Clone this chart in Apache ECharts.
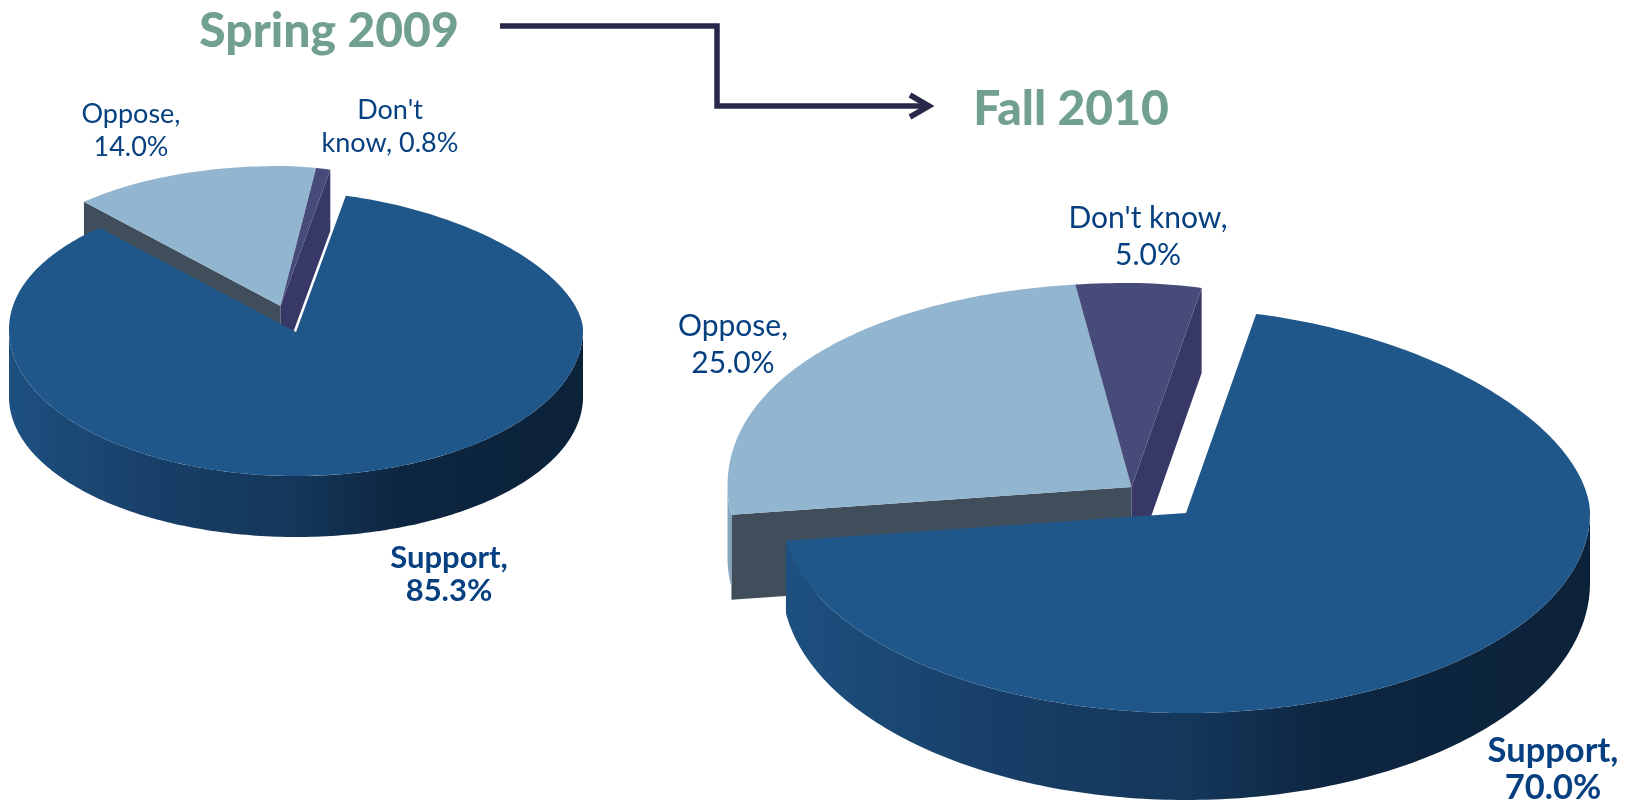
<!DOCTYPE html>
<html>
<head>
<meta charset="utf-8">
<style>html,body{margin:0;padding:0;background:#fff}#c{width:1635px;height:803px}</style>
<script src="https://cdn.jsdelivr.net/npm/echarts@6/dist/echarts.min.js"></script>
</head>
<body>
<div id="c"></div>
<script>
// ---- data ----
const categories = ['Support', 'Oppose', "Don't know"];
const spring2009 = [85.3, 14.0, 0.8];
const fall2010 = [70.0, 25.0, 5.0];
const spring2009Labels = ['Support,\n85.3%', 'Oppose,\n14.0%', "Don't\nknow, 0.8%"];
const fall2010Labels = ['Support,\n70.0%', 'Oppose,\n25.0%', "Don't know,\n5.0%"];
const titles = ['Spring 2009', 'Fall 2010'];

// ---- layout and style ----
const FONT = 'Lato';
const sliceStyle = [
  { top: '#20578a', outer: null, bold: true },
  { top: '#92b5d0', outer: '#86a6c0', cut: '#3f4e5a', cutEdge: 'start', bold: false },
  { top: '#474b7a', outer: '#373865', cut: '#373865', cutEdge: 'end', bold: false }
];
const wallGradient = [
  [0, '#1d5080'], [0.25, '#183f68'], [0.5, '#14375a'], [0.68, '#0d2540'], [1, '#0b2239']
];
const pieLeft = {
  cx: 296, cy: 330, apexY: 332, rx: 287, ryTop: 138, ryBottom: 146, pRight: 1.75, pLeft: 2.05,
  wallCy: 397, wallRy: 140, depth: 61, startAngle: 80,
  shift: [[0, 0], [-15.5, -26], [-15.5, -26]],
  labelPos: [[449, 574], [131, 131], [390, 127]], fontSize: 27, boldSize: 31, lineHeight: 33
};
const pieRight = {
  cx: 1186, cy: 513, apexY: 513, rx: 404, ryTop: 204, ryBottom: 200, pRight: 1.8, pLeft: 2.1,
  wallCy: 583, wallRy: 217, depth: 85, startAngle: 80,
  shift: [[0, 0], [-54.5, -26], [-54.5, -26]],
  labelPos: [[1553, 769], [733, 345], [1148, 237]], fontSize: 30, boldSize: 34.5, lineHeight: 37
};

const RAD = Math.PI / 180;
function rim(g, deg) {
  const c = Math.cos(deg * RAD), s = Math.sin(deg * RAD);
  const x = g.cx + g.rx * c;
  if (s >= 0) {
    const p = c >= 0 ? g.pRight : g.pLeft;
    return [x, g.cy - g.ryTop * Math.pow(1 - Math.pow(Math.abs(c), p), 1 / p)];
  }
  return [x, g.cy + g.ryBottom * Math.abs(s)];
}
function wallRim(g, deg) {
  return [g.cx + g.rx * Math.cos(deg * RAD), g.wallCy + g.wallRy * Math.abs(Math.sin(deg * RAD))];
}
function moved(p, d, extraY) { return [p[0] + d[0], p[1] + d[1] + (extraY || 0)]; }
function arcPoints(fn, g, from, to, d) {
  const pts = [], n = Math.max(2, Math.ceil(Math.abs(from - to)));
  for (let i = 0; i <= n; i++) pts.push(moved(fn(g, from + (to - from) * i / n), d));
  return pts;
}

function pieRenderer(values, labels, g) {
  const total = values.reduce((a, b) => a + b, 0);
  const toAngle = v => echarts.number.linearMap(v, [0, total], [g.startAngle, g.startAngle - 360]);
  return function (params, api) {
    const i = params.dataIndex;
    const before = values.slice(0, i).reduce((a, b) => a + b, 0);
    const a0 = toAngle(before), a1 = toAngle(before + api.value(0));
    const st = sliceStyle[i], d = g.shift[i];
    const apex = [g.cx + d[0], g.apexY + d[1]];
    const order = i === 0 ? 3 : i; // the largest slice sits in front
    const children = [];

    if (st.cut) {
      const edge = moved(rim(g, st.cutEdge === 'start' ? a0 : a1), d);
      children.push({
        type: 'polygon', z2: order * 4,
        shape: { points: [apex, edge, [edge[0], edge[1] + g.depth], [apex[0], apex[1] + g.depth]] },
        style: { fill: st.cut }
      });
    }
    const lo = Math.max(a1, -180), hi = Math.min(a0, 0);
    if (hi > lo) {
      const topArc = arcPoints(rim, g, lo, hi, d);
      const botArc = arcPoints(wallRim, g, hi, lo, d);
      children.push({
        type: 'polygon', z2: order * 4 + 1,
        shape: { points: topArc.concat(botArc) },
        style: {
          fill: st.outer || new echarts.graphic.LinearGradient(0, 0, 1, 0,
            wallGradient.map(s => ({ offset: s[0], color: s[1] })))
        }
      });
    }
    children.push({
      type: 'polygon', z2: order * 4 + 2,
      shape: { points: [apex].concat(arcPoints(rim, g, a0, a1, d)) },
      style: { fill: st.top }
    });
    children.push({
      type: 'text', z2: 100,
      style: {
        text: labels[i], x: g.labelPos[i][0], y: g.labelPos[i][1],
        align: 'center', verticalAlign: 'middle', lineHeight: g.lineHeight,
        font: (st.bold ? 'bold ' + g.boldSize : g.fontSize) + 'px ' + FONT, fill: '#064080'
      }
    });
    return { type: 'group', children };
  };
}

const chart = echarts.init(document.getElementById('c'), null, { renderer: 'canvas' });
chart.setOption({
  animation: false,
  backgroundColor: '#ffffff',
  title: [
    { text: titles[0], left: 324, top: 3, textAlign: 'center',
      textStyle: { fontFamily: FONT, fontWeight: 900, fontSize: 48, color: '#72a08e' } },
    { text: titles[1], left: 1066, top: 81, textAlign: 'center',
      textStyle: { fontFamily: FONT, fontWeight: 900, fontSize: 48, color: '#72a08e' } }
  ],
  graphic: [
    { type: 'polyline', shape: { points: [[500, 26], [717, 26], [717, 106], [928, 106]] },
      style: { stroke: '#28284a', lineWidth: 5.5, fill: null, lineJoin: 'miter' } },
    { type: 'polyline', shape: { points: [[910, 95], [929, 106], [910, 117]] },
      style: { stroke: '#28284a', lineWidth: 5.5, fill: null, lineJoin: 'miter' } }
  ],
  series: [
    { type: 'custom', name: titles[0], coordinateSystem: 'none', silent: true,
      data: categories.map((c, i) => ({ name: c, value: spring2009[i] })),
      renderItem: pieRenderer(spring2009, spring2009Labels, pieLeft) },
    { type: 'custom', name: titles[1], coordinateSystem: 'none', silent: true,
      data: categories.map((c, i) => ({ name: c, value: fall2010[i] })),
      renderItem: pieRenderer(fall2010, fall2010Labels, pieRight) }
  ]
});
</script>
</body>
</html>
